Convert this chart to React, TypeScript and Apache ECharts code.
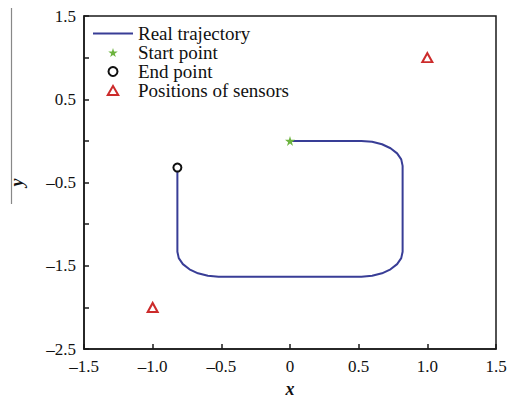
import React, { useEffect, useRef } from "react";
import * as echarts from "echarts";

// Trajectory points (x, y)
const trajectoryX = [0, 0.2, 0.4, 0.52, 0.598, 0.67, 0.732, 0.78, 0.81, 0.82, 0.82, 0.82, 0.82, 0.81, 0.78, 0.732, 0.67, 0.598, 0.52, 0.2, -0.2, -0.52, -0.598, -0.67, -0.732, -0.78, -0.81, -0.82, -0.82, -0.82, -0.82];
const trajectoryY = [0, 0, 0, 0, -0.01, -0.04, -0.088, -0.15, -0.222, -0.3, -0.8, -1.0, -1.33, -1.408, -1.48, -1.542, -1.59, -1.62, -1.63, -1.63, -1.63, -1.63, -1.62, -1.59, -1.542, -1.48, -1.408, -1.33, -1.0, -0.6, -0.32];
const startPoint = [0, 0];
const endPoint = [-0.82, -0.32];
const sensorsX = [1.0, -1.0];
const sensorsY = [1.0, -2.0];

const xTickLabels = ["-1.5", "-1.0", "-0.5", "0", "0.5", "1.0", "1.5"];
const yTickLabels = ["1.5", "0.5", "-0.5", "-1.5", "-2.5"];

const seriesNames = ["Real trajectory", "Start point", "End point", "Positions of sensors"];

const FONT = "'Liberation Serif', 'Times New Roman', serif";
const STAR = "path://M50,0 L61,35 L98,35 L68,57 L79,91 L50,70 L21,91 L32,57 L2,35 L39,35 Z";
const TRIANGLE = "path://M50,0 L100,86 L0,86 Z";

function fmtLabel(v: number, list: string[]): string {
  const match = list.find((s) => Math.abs(parseFloat(s) - v) < 1e-6);
  return match ? match.replace("-", "\u2013") : "";
}

export default function App() {
  const ref = useRef<HTMLDivElement>(null);
  useEffect(() => {
    if (!ref.current) return;
    const chart = echarts.init(ref.current, undefined, { renderer: "svg" });
    const trajectory = trajectoryX.map((x, i) => [x, trajectoryY[i]]);
    const sensors = sensorsX.map((x, i) => [x, sensorsY[i]]);
    const axisCommon = {
      type: "value",
      nameLocation: "middle",
      splitLine: { show: false },
      axisLine: { onZero: false, lineStyle: { color: "#1a1a1a", width: 1.5 } },
      axisTick: { inside: true, length: 5, lineStyle: { color: "#1a1a1a", width: 1.5 } },
    };
    chart.setOption({
      animation: false,
      backgroundColor: "#ffffff",
      grid: {
        left: 80,
        right: 16,
        top: 16,
        bottom: 48,
        show: true,
        borderColor: "#1a1a1a",
        borderWidth: 1.5,
        backgroundColor: "transparent",
      },
      legend: {
        left: 88,
        top: 19,
        orient: "vertical",
        itemWidth: 40,
        itemHeight: 9,
        itemGap: 0,
        symbolKeepAspect: true,
        textStyle: { fontFamily: FONT, fontSize: 19, color: "#111", lineHeight: 18 },
        data: [
          {
            name: seriesNames[0],
            icon: "path://M0,0 L40,0 L40,2 L0,2 Z",
            itemStyle: { color: "#383d96", borderWidth: 0 },
          },
          { name: seriesNames[1], icon: STAR, itemStyle: { color: "#6cb33e" } },
          { name: seriesNames[2], icon: "circle", itemStyle: { color: "#fff", borderColor: "#111", borderWidth: 2 } },
          { name: seriesNames[3], icon: TRIANGLE, itemStyle: { color: "#fff", borderColor: "#cc2b2b", borderWidth: 2 } },
        ],
      },
      xAxis: {
        ...axisCommon,
        min: -1.5,
        max: 1.5,
        interval: 0.5,
        name: "x",
        nameGap: 27,
        nameTextStyle: { fontFamily: FONT, fontSize: 18, fontStyle: "italic", fontWeight: "bold", color: "#111" },
        axisLabel: {
          fontFamily: FONT,
          fontSize: 17,
          color: "#111",
          margin: 9,
          formatter: (v: number) => fmtLabel(v, xTickLabels),
        },
      },
      yAxis: {
        ...axisCommon,
        min: -2.5,
        max: 1.5,
        interval: 0.5,
        name: "y",
        nameGap: 58,
        nameTextStyle: { fontFamily: FONT, fontSize: 18, fontStyle: "italic", fontWeight: "bold", color: "#111" },
        axisLabel: {
          fontFamily: FONT,
          fontSize: 17,
          color: "#111",
          margin: 8,
          formatter: (v: number) => fmtLabel(v, yTickLabels),
        },
      },
      graphic: [
        {
          type: "line",
          shape: { x1: 11.5, y1: 8, x2: 11.5, y2: 204 },
          style: { stroke: "#888", lineWidth: 1.2 },
        },
      ],
      series: [
        {
          name: seriesNames[0],
          type: "line",
          data: trajectory,
          showSymbol: false,
          symbol: "none",
          smooth: false,
          lineStyle: { color: "#383d96", width: 2 },
          itemStyle: { color: "#383d96" },
          z: 2,
        },
        {
          name: seriesNames[1],
          type: "scatter",
          data: [startPoint],
          symbol: STAR,
          symbolSize: 10,
          itemStyle: { color: "#6cb33e", opacity: 1 },
          z: 5,
        },
        {
          name: seriesNames[2],
          type: "scatter",
          data: [endPoint],
          symbol: "circle",
          symbolSize: 8,
          itemStyle: { color: "#ffffff", borderColor: "#111", borderWidth: 2, opacity: 1 },
          z: 5,
        },
        {
          name: seriesNames[3],
          type: "scatter",
          data: sensors,
          symbol: TRIANGLE,
          symbolSize: [10, 9],
          itemStyle: { color: "#ffffff", borderColor: "#cc2b2b", borderWidth: 2, opacity: 1 },
          z: 5,
        },
      ],
    });
    return () => chart.dispose();
  }, []);
  return (
    <div
      ref={ref}
      style={{ position: "fixed", left: 0, top: 0, width: 512, height: 403 }}
    />
  );
}
